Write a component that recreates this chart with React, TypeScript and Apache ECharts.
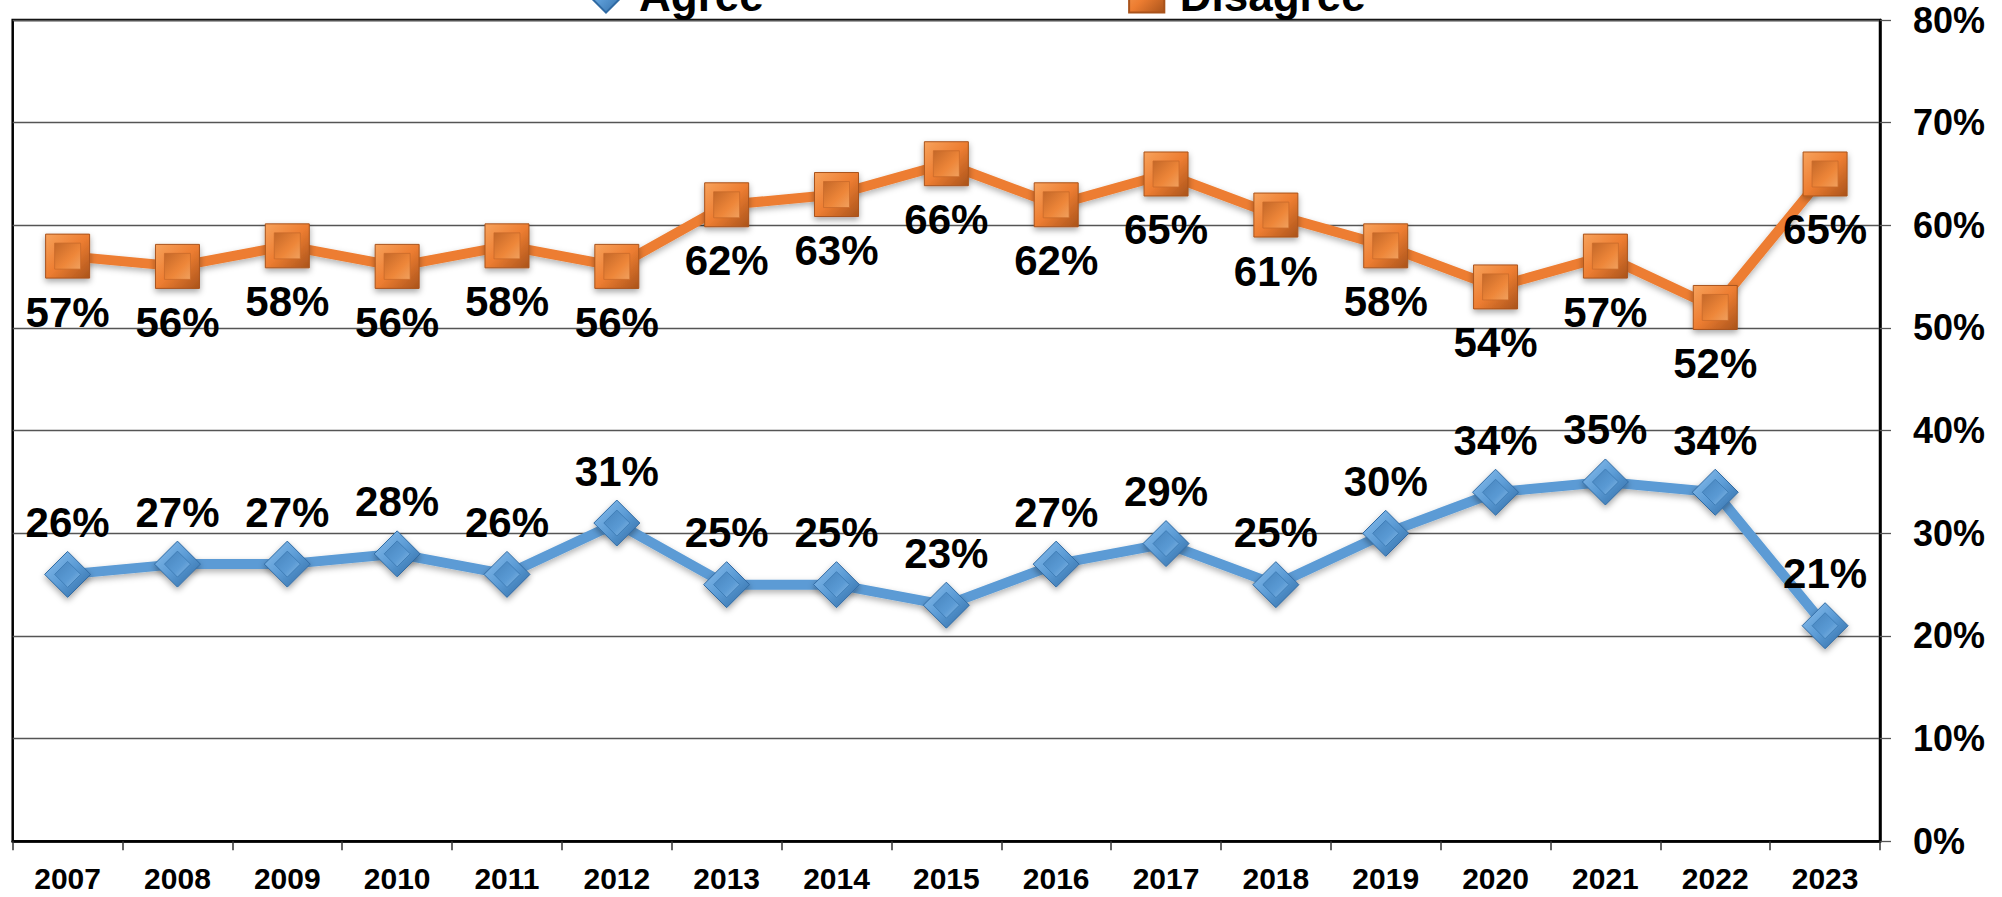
import React, { useEffect, useRef } from "react";
import * as echarts from "echarts";

const years = ["2007","2008","2009","2010","2011","2012","2013","2014","2015","2016","2017","2018","2019","2020","2021","2022","2023"];
const agree = [26,27,27,28,26,31,25,25,23,27,29,25,30,34,35,34,21];
const disagree = [57,56,58,56,58,56,62,63,66,62,65,61,58,54,57,52,65];
const yTicks = { min: 0, max: 80, interval: 10 };

const FONT = "'Liberation Sans', Arial, Helvetica, sans-serif";

const blueOuter = new echarts.graphic.LinearGradient(0, 0, 1, 1, [
  { offset: 0, color: "#8cc0ee" },
  { offset: 0.5, color: "#5b9bd5" },
  { offset: 1, color: "#2f6aa3" },
]);
const blueInner = new echarts.graphic.LinearGradient(0, 0, 1, 1, [
  { offset: 0, color: "#3a78b2" },
  { offset: 0.6, color: "#5b9bd5" },
  { offset: 1, color: "#9ccaf2" },
]);
const orangeOuter = new echarts.graphic.LinearGradient(0, 0, 1, 1, [
  { offset: 0, color: "#f7a25c" },
  { offset: 0.5, color: "#ed7d31" },
  { offset: 1, color: "#a9531b" },
]);
const orangeInner = new echarts.graphic.LinearGradient(0, 0, 1, 1, [
  { offset: 0, color: "#b85d20" },
  { offset: 0.6, color: "#f08a3c" },
  { offset: 1, color: "#fbb06e" },
]);

export default function App() {
  const ref = useRef<HTMLDivElement>(null);
  useEffect(() => {
    document.body.style.margin = "0";
    const chart = echarts.init(ref.current!, undefined, { renderer: "svg" });
    const labelBase = {
      show: true,
      position: "inside" as const,
      formatter: "{c}%",
      fontFamily: FONT,
      fontWeight: "bold" as const,
      fontSize: 42,
      color: "#000",
    };
    chart.setOption({
      animation: false,
      backgroundColor: "#fff",
      textStyle: { fontFamily: FONT },
      legend: {
        data: ["Agree", "Disagree"],
        left: 578,
        top: -32,
        itemWidth: 44,
        itemHeight: 44,
        itemGap: 360,
        textStyle: { fontFamily: FONT, fontWeight: "bold", fontSize: 44, color: "#000", padding: [0, 0, 0, 6] },
      },
      grid: {
        left: 12.7,
        right: 122,
        top: 20,
        bottom: 55.7,
        show: true,
        borderColor: "#000",
        borderWidth: 2.5,
        containLabel: false,
      },
      xAxis: {
        type: "category",
        data: years,
        boundaryGap: true,
        axisLine: { show: true, lineStyle: { color: "#000", width: 2.5 } },
        axisTick: { show: true, interval: 0, length: 9, lineStyle: { color: "#333", width: 1.5 } },
        axisLabel: { interval: 0, margin: 22, fontFamily: FONT, fontWeight: "bold", fontSize: 30, color: "#000" },
      },
      yAxis: {
        type: "value",
        position: "right",
        min: yTicks.min,
        max: yTicks.max,
        interval: yTicks.interval,
        axisLine: { show: true, lineStyle: { color: "#000", width: 2.5 } },
        axisTick: { show: true, length: 11, lineStyle: { color: "#555", width: 1.3 } },
        axisLabel: { margin: 33, formatter: "{value}%", fontFamily: FONT, fontWeight: "bold", fontSize: 36, color: "#000" },
        splitLine: { show: true, lineStyle: { color: "#555", width: 1.3 } },
      },
      series: [
        {
          name: "Disagree",
          type: "line",
          data: disagree,
          symbol: "rect",
          symbolSize: 44,
          z: 3,
          lineStyle: { color: "#ed7d31", width: 10, shadowBlur: 6, shadowColor: "rgba(0,0,0,0.3)", shadowOffsetY: 3 },
          itemStyle: { color: orangeOuter, borderColor: "#a9531b", borderWidth: 1, shadowBlur: 6, shadowColor: "rgba(0,0,0,0.35)", shadowOffsetY: 3 },
          label: { ...labelBase, offset: [0, 56] },
        },
        {
          name: "DisagreeInner",
          type: "scatter",
          data: disagree,
          symbol: "rect",
          symbolSize: 26,
          z: 4,
          silent: true,
          itemStyle: { color: orangeInner, borderColor: "#c96a2a", borderWidth: 1 },
        },
        {
          name: "Agree",
          type: "line",
          data: agree,
          symbol: "diamond",
          symbolSize: 46,
          z: 3,
          lineStyle: { color: "#5b9bd5", width: 10, shadowBlur: 6, shadowColor: "rgba(0,0,0,0.3)", shadowOffsetY: 3 },
          itemStyle: { color: blueOuter, borderColor: "#2f6aa3", borderWidth: 1, shadowBlur: 6, shadowColor: "rgba(0,0,0,0.35)", shadowOffsetY: 3 },
          label: { ...labelBase, offset: [0, -52] },
        },
        {
          name: "AgreeInner",
          type: "scatter",
          data: agree,
          symbol: "diamond",
          symbolSize: 26,
          z: 4,
          silent: true,
          itemStyle: { color: blueInner, borderColor: "#3a78b2", borderWidth: 1 },
        },
      ],
    });
    return () => chart.dispose();
  }, []);
  return <div ref={ref} style={{ position: "fixed", left: 0, top: 0, width: 2002, height: 897 }} />;
}
